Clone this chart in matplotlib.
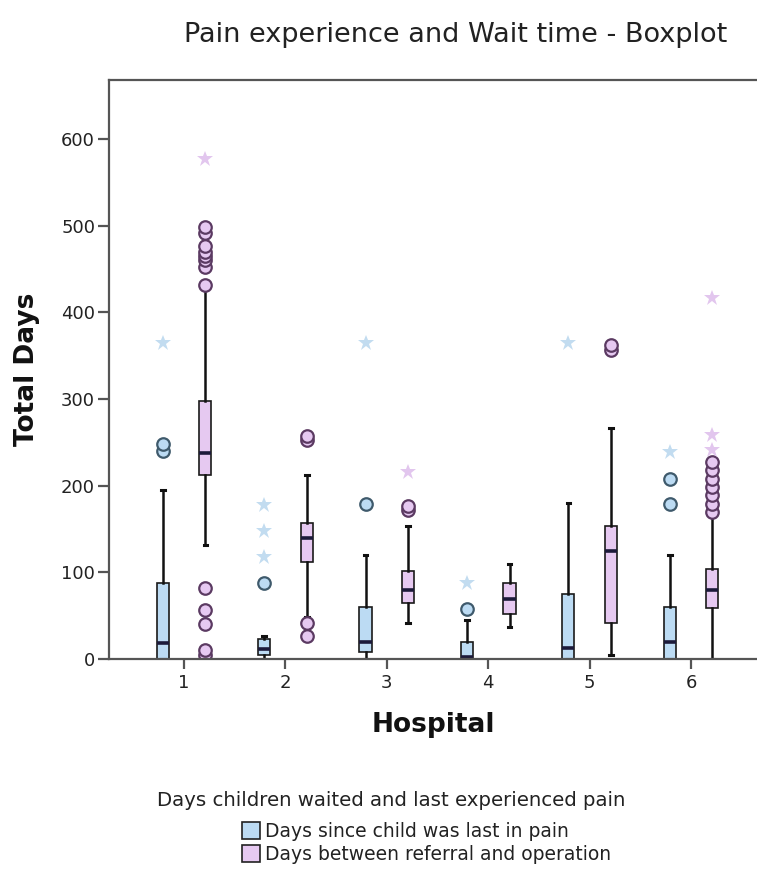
import matplotlib
matplotlib.use("Agg")
from matplotlib import pyplot as plt
from matplotlib.patches import Patch

# values (days)
hospitals = [1, 2, 3, 4, 5, 6]

pain_q1 = [0, 5, 8, 0, 0, 0]
pain_med = [18, 12, 20, 2, 13, 19]
pain_q3 = [88, 23, 60, 19, 75, 60]
pain_whislo = [0, 0, 0, 0, 0, 0]
pain_whishi = [195, 26, 120, 45, 180, 120]
pain_outliers = [[240, 248], [88], [179], [58], [], [179, 208]]
pain_extremes = [[365], [118, 148, 178], [365], [88], [365], [239]]

refer_q1 = [212, 112, 64, 52, 41, 59]
refer_med = [238, 140, 80, 69, 124, 80]
refer_q3 = [298, 157, 101, 88, 153, 104]
refer_whislo = [132, 48, 42, 37, 5, 0]
refer_whishi = [428, 212, 153, 110, 266, 164]
refer_outliers = [
    [4, 10, 40, 57, 82, 432, 452, 460, 465, 470, 476, 492, 498],
    [26, 42, 253, 257],
    [172, 176],
    [],
    [357, 362],
    [170, 179, 189, 198, 208, 218, 227],
]
refer_extremes = [[577], [], [216], [], [], [241, 258, 417]]

series_labels = ["Days since child was last in pain",
                 "Days between referral and operation"]

BLUE = "#bcdbf3"
PINK = "#e6c9f1"
BLUE_EDGE = "#3f5a6c"
PINK_EDGE = "#5b3a62"
BLUE_STAR = "#c2dcf0"
PINK_STAR = "#e2c6ee"
TEXT = "#222222"

plt.rcParams["font.family"] = ["DejaVu Sans"]

fig = plt.figure(figsize=(7.57, 8.69), dpi=100)
ax = fig.add_axes([0.144, 0.2417, 0.856, 0.6663])


def make_stats(q1, med, q3, lo, hi, fl):
    return [dict(q1=a, med=b, q3=c, whislo=d, whishi=e, fliers=f)
            for a, b, c, d, e, f in zip(q1, med, q3, lo, hi, fl)]


def draw_series(stats, offset, fill, edge, star_col, extremes):
    pos = [h + offset for h in hospitals]
    ax.bxp(stats, positions=pos, widths=0.12, patch_artist=True,
           capwidths=0.035,
           boxprops=dict(facecolor=fill, edgecolor="#1a1a1a", linewidth=1.2),
           medianprops=dict(color="#1c1a3a", linewidth=2.6),
           whiskerprops=dict(color="#111111", linewidth=1.8),
           capprops=dict(color="#111111", linewidth=2.2),
           flierprops=dict(marker="o", markerfacecolor=fill,
                           markeredgecolor=edge, markersize=9,
                           markeredgewidth=1.6))
    for p, vals in zip(pos, extremes):
        ax.plot([p] * len(vals), vals, linestyle="none", marker="*",
                markersize=12, color=star_col, markeredgewidth=0)


draw_series(make_stats(pain_q1, pain_med, pain_q3, pain_whislo,
                       pain_whishi, pain_outliers),
            -0.21, BLUE, BLUE_EDGE, BLUE_STAR, pain_extremes)
draw_series(make_stats(refer_q1, refer_med, refer_q3, refer_whislo,
                       refer_whishi, refer_outliers),
            0.21, PINK, PINK_EDGE, PINK_STAR, refer_extremes)

ax.set_xlim(0.26, 6.65)
ax.set_ylim(0, 668)
ax.set_xticks(hospitals)
ax.set_xticklabels([str(h) for h in hospitals])
ax.set_yticks(range(0, 601, 100))

for side in ["left", "top", "bottom"]:
    ax.spines[side].set_color("#555555")
    ax.spines[side].set_linewidth(1.6)
ax.spines["right"].set_visible(False)

ax.tick_params(axis="both", direction="out", colors="#555555", width=1.6,
               labelsize=13, labelcolor=TEXT)
ax.tick_params(axis="x", length=7, pad=4)
ax.tick_params(axis="y", length=8, pad=2)

ax.set_xlabel("Hospital", fontsize=19, fontweight="bold", color="#111111",
              labelpad=14)
ax.set_ylabel("Total Days", fontsize=19, fontweight="bold", color="#111111",
              labelpad=15)

fig.text(0.602, 0.96, "Pain experience and Wait time - Boxplot",
         ha="center", va="center", fontsize=19.5, color=TEXT)

fig.text(0.517, 1 - 800 / 869, "Days children waited and last experienced pain",
         ha="center", va="center", fontsize=14.2, color=TEXT)

handles = [Patch(facecolor=BLUE, edgecolor="#222222", linewidth=1.2),
           Patch(facecolor=PINK, edgecolor="#222222", linewidth=1.2)]
fig.legend(handles, series_labels, loc="upper left",
           bbox_to_anchor=(242 / 757, 1 - 822 / 869), frameon=False,
           fontsize=13.5, handlelength=0.95, handleheight=1.0,
           handletextpad=0.3, labelspacing=0.2, borderpad=0.0,
           borderaxespad=0.0, labelcolor=TEXT)

fig.savefig("out.png", dpi=100, facecolor="white")
